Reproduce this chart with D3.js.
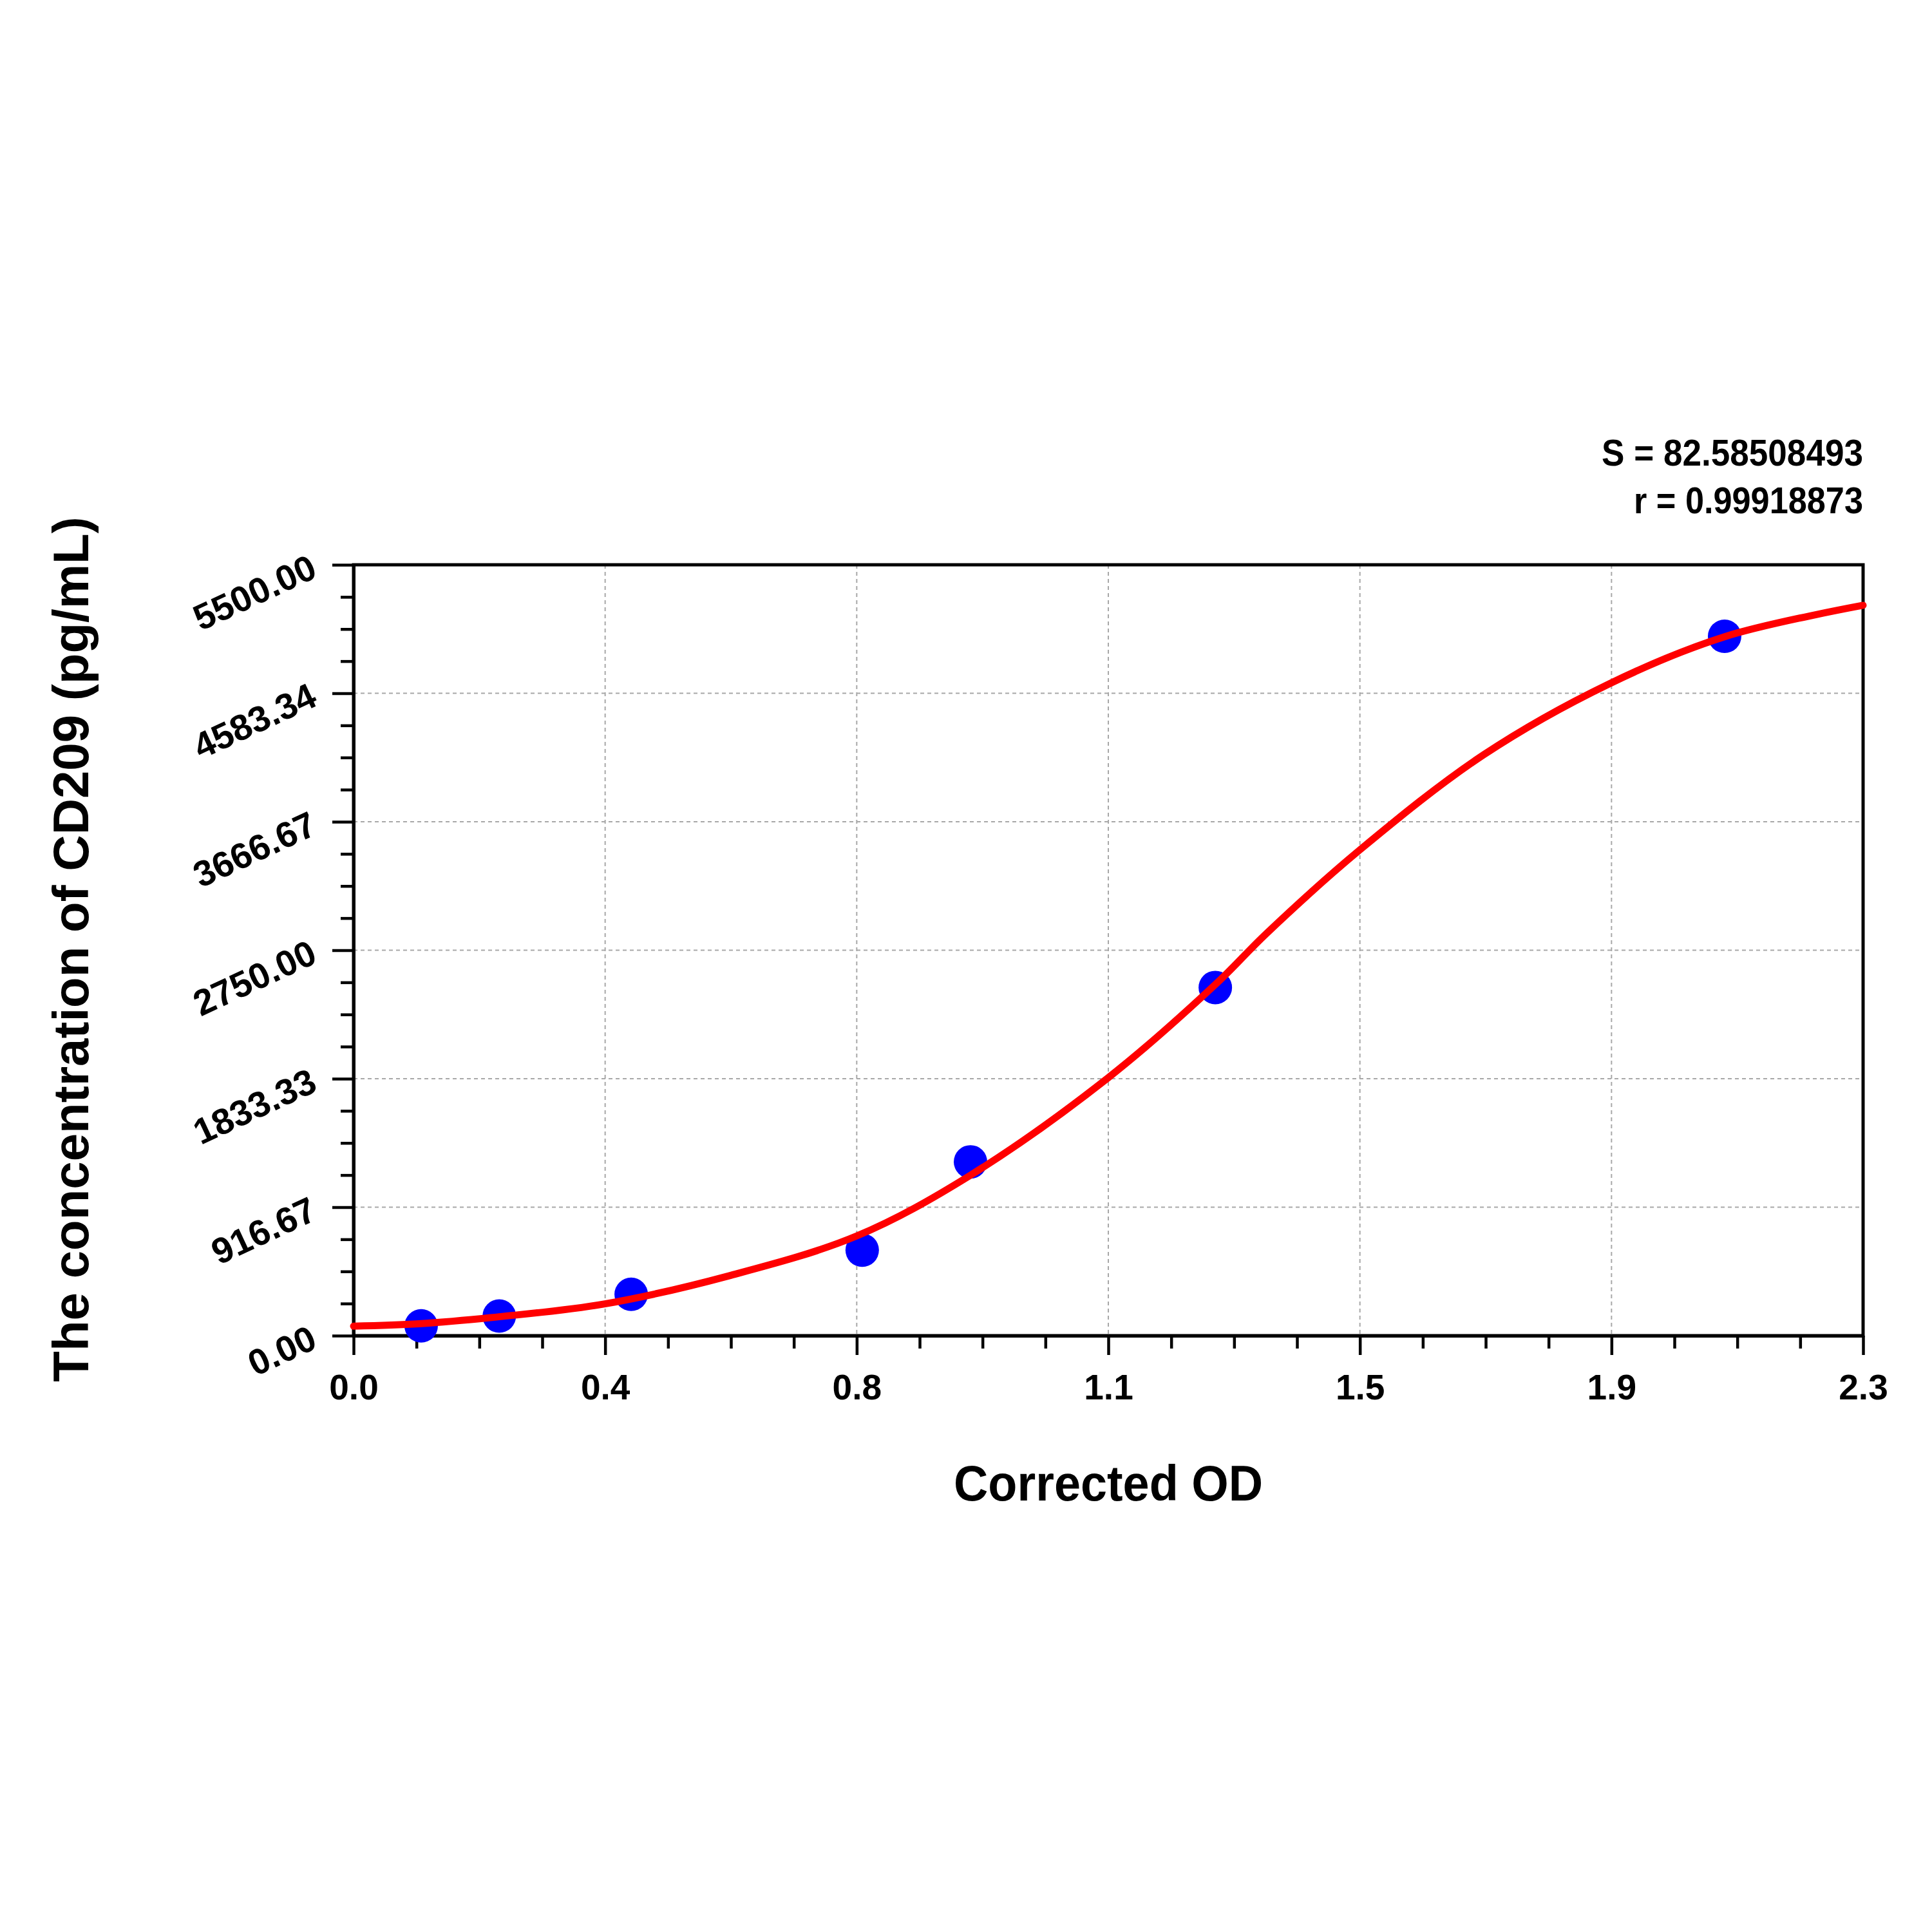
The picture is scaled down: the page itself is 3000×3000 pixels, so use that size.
<!DOCTYPE html>
<html>
<head>
<meta charset="utf-8">
<script src="https://cdn.jsdelivr.net/npm/d3@7"></script>
<style>
  html, body { margin: 0; padding: 0; background: #ffffff; }
  svg { display: block; }
</style>
</head>
<body>
<svg id="chart" width="3000" height="3000"></svg>
<script>
// ---- data ----
const pointOD   = [0.103, 0.222, 0.423, 0.775, 0.940, 1.313, 2.089];
const pointConc = [70, 140, 295, 610, 1240, 2484, 4990];

// fitted curve
const curveOD   = [0.000, 0.100, 0.222, 0.383, 0.572, 0.767, 0.940, 1.150, 1.313, 1.391, 1.533, 1.722, 1.912, 2.089, 2.300];
const curveConc = [68,    85,    135,   227,   427,   712,   1145,  1841,  2505,  2870,  3465,  4145,  4648,  4987,  5211];

const xTickValues = [0, 0.38333, 0.76667, 1.15, 1.53333, 1.91667, 2.3];
const xTickLabels = ["0.0", "0.4", "0.8", "1.1", "1.5", "1.9", "2.3"];
const yTickValues = [0, 916.67, 1833.33, 2750, 3666.67, 4583.34, 5500];
const yTickLabels = ["0.00", "916.67", "1833.33", "2750.00", "3666.67", "4583.34", "5500.00"];

const statLines = ["S = 82.58508493", "r = 0.99918873"];
const xTitle = "Corrected OD";
const yTitle = "The concentration of CD209 (pg/mL)";

// ---- layout ----
const W = 3000, H = 3000;
const plot = { left: 549, right: 2893, top: 877, bottom: 2074 };
const FONT = "Arial, 'Liberation Sans', 'DejaVu Sans', sans-serif";

const x = d3.scaleLinear().domain([0, 2.3]).range([plot.left, plot.right]);
const y = d3.scaleLinear().domain([0, 5500]).range([plot.bottom, plot.top]);

const svg = d3.select("#chart");
svg.append("rect").attr("width", W).attr("height", H).attr("fill", "#ffffff");

// minor tick positions (3 between each pair of major ticks)
function minors(vals) {
  const out = [];
  for (let i = 0; i < vals.length - 1; i++) {
    for (let k = 1; k <= 3; k++) out.push(vals[i] + (vals[i + 1] - vals[i]) * k / 4);
  }
  return out;
}

// ---- grid ----
const grid = svg.append("g").attr("class", "grid");
grid.selectAll("line.gv").data(xTickValues.slice(1, -1)).join("line")
  .attr("class", "gv")
  .attr("x1", d => x(d)).attr("x2", d => x(d))
  .attr("y1", plot.top).attr("y2", plot.bottom)
  .attr("stroke", "#a8a8a8").attr("stroke-width", 2).attr("stroke-dasharray", "6,5");
grid.selectAll("line.gh").data(yTickValues.slice(1, -1)).join("line")
  .attr("class", "gh")
  .attr("y1", d => y(d)).attr("y2", d => y(d))
  .attr("x1", plot.left).attr("x2", plot.right)
  .attr("stroke", "#a8a8a8").attr("stroke-width", 2).attr("stroke-dasharray", "6,5");

// ---- axes (separate groups for minor and major ticks) ----
svg.append("g").attr("transform", `translate(0,${plot.bottom})`)
  .call(d3.axisBottom(x).tickValues(minors(xTickValues)).tickFormat("").tickSize(20).tickSizeOuter(0));
const xAxisG = svg.append("g").attr("transform", `translate(0,${plot.bottom})`)
  .call(d3.axisBottom(x).tickValues(xTickValues)
    .tickFormat((d, i) => xTickLabels[i]).tickSize(30).tickSizeOuter(0).tickPadding(30));

svg.append("g").attr("transform", `translate(${plot.left},0)`)
  .call(d3.axisLeft(y).tickValues(minors(yTickValues)).tickFormat("").tickSize(20).tickSizeOuter(0));
svg.append("g").attr("transform", `translate(${plot.left},0)`)
  .call(d3.axisLeft(y).tickValues(yTickValues).tickFormat("").tickSize(33).tickSizeOuter(0));

svg.selectAll(".domain").attr("stroke", "#000").attr("stroke-width", 5);
svg.selectAll(".tick line").attr("stroke", "#000").attr("stroke-width", 4.5);
xAxisG.selectAll(".tick text")
  .attr("font-family", FONT).attr("font-size", 55).attr("font-weight", "bold").attr("fill", "#000");

// rotated y tick labels
svg.append("g").selectAll("text").data(yTickValues).join("text")
  .attr("transform", d => `translate(${plot.left - 62},${y(d)}) rotate(-25)`)
  .attr("text-anchor", "end").attr("dy", "0.35em")
  .attr("font-family", FONT).attr("font-size", 56).attr("font-weight", "bold").attr("fill", "#000")
  .text((d, i) => yTickLabels[i]);

// frame (top + right)
svg.append("rect")
  .attr("x", plot.left).attr("y", plot.top)
  .attr("width", plot.right - plot.left).attr("height", plot.bottom - plot.top)
  .attr("fill", "none").attr("stroke", "#000").attr("stroke-width", 5);

// ---- data points ----
const pts = pointOD.map((d, i) => ({ od: d, c: pointConc[i] }));
svg.append("g").selectAll("circle").data(pts).join("circle")
  .attr("cx", d => x(d.od)).attr("cy", d => y(d.c)).attr("r", 26)
  .attr("fill", "#0000ff");

// ---- fitted curve ----
const cpts = curveOD.map((d, i) => ({ od: d, c: curveConc[i] }));
const line = d3.line().x(d => x(d.od)).y(d => y(d.c)).curve(d3.curveCatmullRom.alpha(0.5));
svg.append("path").datum(cpts).attr("d", line)
  .attr("fill", "none").attr("stroke", "#ff0000").attr("stroke-width", 11)
  .attr("stroke-linejoin", "round").attr("stroke-linecap", "round");

// ---- titles ----
svg.append("text")
  .attr("x", (plot.left + plot.right) / 2).attr("y", 2330)
  .attr("text-anchor", "middle")
  .attr("font-family", FONT).attr("font-size", 78).attr("font-weight", "bold")
  .attr("textLength", 480).attr("lengthAdjust", "spacingAndGlyphs")
  .text(xTitle);

svg.append("text")
  .attr("transform", `translate(137,1474) rotate(-90)`)
  .attr("text-anchor", "middle")
  .attr("font-family", FONT).attr("font-size", 78).attr("font-weight", "bold")
  .text(yTitle);

// ---- statistics ----
const statBase = [723, 797];
const statLen = [406, 356];
svg.append("g").selectAll("text").data(statLines).join("text")
  .attr("x", plot.right).attr("y", (d, i) => statBase[i])
  .attr("text-anchor", "end")
  .attr("font-family", FONT).attr("font-size", 58).attr("font-weight", "bold")
  .attr("textLength", (d, i) => statLen[i]).attr("lengthAdjust", "spacingAndGlyphs")
  .text(d => d);
</script>
</body>
</html>
